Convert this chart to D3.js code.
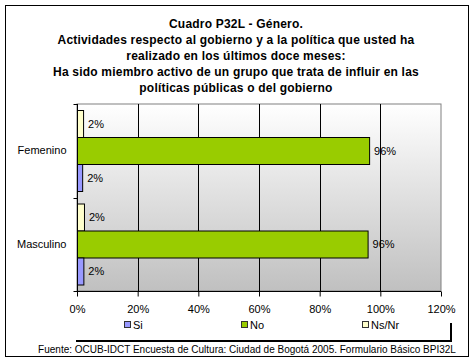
<!DOCTYPE html>
<html>
<head>
<meta charset="utf-8">
<script src="https://cdn.jsdelivr.net/npm/d3@7"></script>
<style>
  body { margin: 0; background: #fff; }
  text { font-family: "Liberation Sans", Arial, sans-serif; }
</style>
</head>
<body>
<script>
// Cuadro P32L - barras horizontales agrupadas
const categorias = ["Femenino", "Masculino"]
const series = ["Si", "No", "Ns/Nr"]
const valSi = [1.7, 2.1]
const valNo = [96.3, 95.8]
const valNsNr = [2.0, 2.3]
const etiquetasX = [0, 20, 40, 60, 80, 100, 120]
const colores = { "Si": "#9999ff", "No": "#99cc00", "Ns/Nr": "#ffffcc" }
const titulo = [
  "Cuadro P32L - Género.",
  "Actividades respecto al gobierno y a la política que usted ha",
  "realizado en los últimos doce meses:",
  "Ha sido miembro activo de un grupo que trata de influir en las",
  "políticas públicas o del gobierno"
]
const fuente = "Fuente: OCUB-IDCT Encuesta de Cultura: Ciudad de Bogotá 2005. Formulario Básico BPI32L"

const w = 476, h = 364
const plot = { left: 77, right: 441, top: 104, bottom: 291 }

const datos = categorias.map((c, i) => ({
  cat: c,
  vals: [
    { s: "Ns/Nr", v: valNsNr[i] },
    { s: "No", v: valNo[i] },
    { s: "Si", v: valSi[i] }
  ]
}))

const svg = d3.select("body").append("svg")
  .attr("width", w).attr("height", h)

// marco exterior
svg.append("rect")
  .attr("x", 5.5).attr("y", 5.5)
  .attr("width", 463).attr("height", 351)
  .attr("fill", "white").attr("stroke", "black")

// titulo
svg.append("g").selectAll("text")
  .data(titulo).enter().append("text")
  .attr("x", 236).attr("y", (d, i) => 28 + i * 16)
  .attr("text-anchor", "middle")
  .attr("font-size", "12px").attr("font-weight", "bold")
  .attr("letter-spacing", "0.2px")
  .text(d => d)

// fondo degradado
const grad = svg.append("defs").append("linearGradient")
  .attr("id", "fondo").attr("x1", 0).attr("y1", 0).attr("x2", 0).attr("y2", 1)
grad.append("stop").attr("offset", "0%").attr("stop-color", "#ffffff")
grad.append("stop").attr("offset", "100%").attr("stop-color", "#c0c0c0")

svg.append("rect")
  .attr("x", plot.left).attr("y", plot.top)
  .attr("width", plot.right - plot.left).attr("height", plot.bottom - plot.top)
  .attr("fill", "url(#fondo)").attr("stroke", "#808080")

const xScale = d3.scaleLinear().domain([0, 120]).range([plot.left, plot.right])
const yScale = d3.scaleBand().domain(categorias).range([plot.top, plot.bottom])
const ySub = d3.scaleBand().domain(["Ns/Nr", "No", "Si"])
  .range([0, yScale.bandwidth()]).paddingInner(0).paddingOuter(0.24)

// lineas de division
svg.append("g").selectAll("line")
  .data(etiquetasX.filter(d => d > 0 && d < 120)).enter().append("line")
  .attr("x1", d => Math.round(xScale(d)) + 0.5).attr("x2", d => Math.round(xScale(d)) + 0.5)
  .attr("y1", plot.top).attr("y2", plot.bottom)
  .attr("stroke", "black")

// barras
const grupos = svg.append("g").selectAll("g")
  .data(datos).enter().append("g")
  .attr("transform", d => "translate(0," + yScale(d.cat) + ")")

grupos.selectAll("rect")
  .data(d => d.vals).enter().append("rect")
  .attr("x", xScale(0) + 0.5)
  .attr("y", d => Math.round(ySub(d.s)) + 0.5)
  .attr("width", d => xScale(d.v) - xScale(0))
  .attr("height", Math.round(ySub.bandwidth()))
  .attr("fill", d => colores[d.s])
  .attr("stroke", "black")

grupos.selectAll("text")
  .data(d => d.vals).enter().append("text")
  .attr("x", d => xScale(d.v) + 5)
  .attr("y", d => ySub(d.s) + ySub.bandwidth() / 2 + 4)
  .attr("font-size", "11px")
  .text(d => Math.round(d.v) + "%")

// eje x
const xAxis = d3.axisBottom(xScale).tickValues(etiquetasX)
  .tickFormat(d => d + "%").tickSize(5).tickPadding(9)
const gx = svg.append("g")
  .attr("transform", "translate(0," + (plot.bottom + 0.5) + ")")
  .call(xAxis)
gx.select(".domain").attr("d", "M" + plot.left + ",0H" + plot.right).attr("stroke", "black")
gx.selectAll("text").attr("font-size", "11px").attr("font-family", "Liberation Sans, Arial, sans-serif")

// eje y
const yAxis = d3.axisLeft(yScale).tickSize(0).tickPadding(11)
const gy = svg.append("g")
  .attr("transform", "translate(" + (plot.left + 0.5) + ",0)")
  .call(yAxis)
gy.select(".domain").attr("d", "M0," + plot.top + "V" + plot.bottom).attr("stroke", "black")
gy.selectAll("text").attr("font-size", "11px").attr("font-family", "Liberation Sans, Arial, sans-serif")
gy.selectAll(".sep")
  .data([plot.top, (plot.top + plot.bottom) / 2, plot.bottom]).enter().append("line")
  .attr("x1", -4).attr("x2", 0)
  .attr("y1", d => Math.round(d) + 0.5).attr("y2", d => Math.round(d) + 0.5)
  .attr("stroke", "black")

// leyenda
svg.append("path")
  .attr("d", "M76,341H451V323")
  .attr("fill", "none").attr("stroke", "black").attr("stroke-width", 2)

const leyX = [124, 241, 362]
const ley = svg.append("g").selectAll("g")
  .data(series).enter().append("g")
  .attr("transform", (d, i) => "translate(" + leyX[i] + ",321)")
ley.append("rect")
  .attr("x", 0.5).attr("y", 0.5).attr("width", 6).attr("height", 6)
  .attr("fill", d => colores[d]).attr("stroke", "#333")
ley.append("text")
  .attr("x", 9).attr("y", 7.5)
  .attr("font-size", "11px")
  .text(d => d)

// fuente
svg.append("text")
  .attr("x", 247).attr("y", 353)
  .attr("text-anchor", "middle")
  .attr("font-size", "10px")
  .text(fuente)
</script>
</body>
</html>
